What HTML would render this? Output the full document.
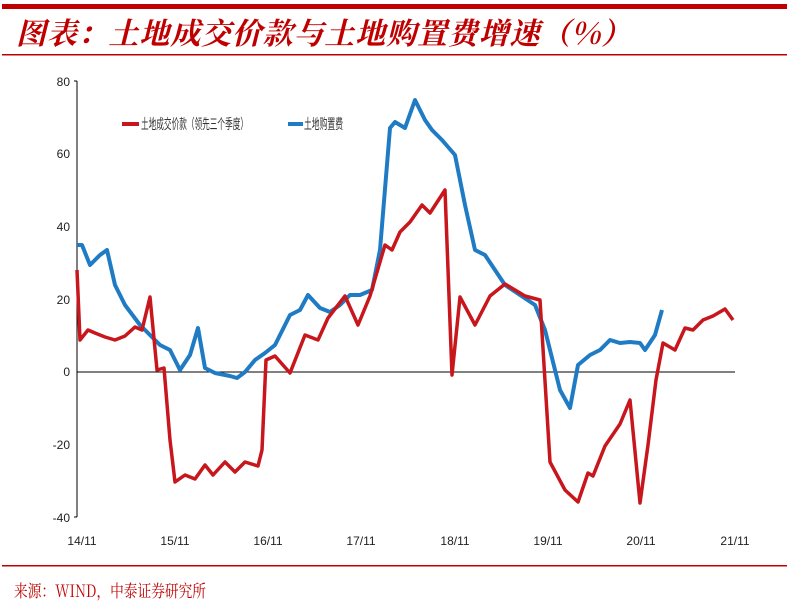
<!DOCTYPE html>
<html><head><meta charset="utf-8"><style>
body{margin:0;background:#fff;}
svg{display:block}
text{font-family:"Liberation Sans","Noto Sans CJK SC",sans-serif;}
</style></head><body>
<svg width="787" height="611" viewBox="0 0 787 611" xmlns="http://www.w3.org/2000/svg">
<rect x="2" y="4" width="785" height="5" fill="#c00000"/>
<text x="16" y="44" font-size="30" font-style="italic" font-weight="bold" fill="#c00000" textLength="615" lengthAdjust="spacing" style="font-family:'Noto Serif CJK SC','Noto Sans CJK SC',serif">图表：土地成交价款与土地购置费增速（%）</text>
<rect x="2" y="54" width="785" height="1.5" fill="#c00000"/>
<line x1="77" y1="81" x2="77" y2="517" stroke="#000" stroke-width="1"/>
<line x1="74" y1="81" x2="77" y2="81" stroke="#000"/>
<line x1="74" y1="517" x2="77" y2="517" stroke="#000"/>
<line x1="77" y1="372" x2="735" y2="372" stroke="#000" stroke-width="1"/>
<g font-size="12" fill="#222" text-anchor="end">
<text x="70" y="86">80</text><text x="70" y="158">60</text><text x="70" y="231">40</text><text x="70" y="304">20</text><text x="70" y="376">0</text><text x="70" y="449">-20</text><text x="70" y="522">-40</text>
</g>
<g font-size="12" fill="#222" text-anchor="middle">
<text x="82" y="545">14/11</text><text x="175" y="545">15/11</text><text x="268" y="545">16/11</text><text x="361" y="545">17/11</text><text x="455" y="545">18/11</text><text x="548" y="545">19/11</text><text x="641" y="545">20/11</text><text x="735" y="545">21/11</text>
</g>
<polyline fill="none" stroke="#1f7cc4" stroke-width="4" stroke-linejoin="round" points="77,245 82,245 90,265 100,255 107,250 115,285 125,305 140,325 150,335 160,345 170,350 180,370 190,355 198,328 205,368 215,373 230,376 237,378 245,372 255,360 265,353 275,345 290,315 300,310 308,295 320,308 330,312 340,305 350,295 360,295 372,290 380,250 390,128 395,122 405,128 415,100 425,120 432,130 442,140 455,155 465,205 475,250 485,255 495,270 505,285 520,295 535,305 545,330 560,390 570,408 578,365 590,355 600,350 610,340 620,343 630,342 640,343 645,350 655,335 662,310"/>
<polyline fill="none" stroke="#c8161d" stroke-width="3.5" stroke-linejoin="round" points="77,270 80,340 88,330 95,333 105,337 115,340 125,336 135,327 142,330 150,297 157,370 164,368 170,440 175,482 185,475 195,479 205,465 213,475 225,462 235,472 245,462 258,466 262,450 266,360 275,356 290,373 305,335 318,340 328,318 345,296 358,325 370,296 385,245 392,250 400,232 410,222 422,205 430,213 445,190 452,375 460,297 475,325 490,296 505,284 525,296 540,300 550,462 565,490 578,502 588,473 593,476 605,446 620,424 630,400 640,503 648,445 656,380 663,343 675,350 685,328 693,330 703,320 713,316 725,309 733,320"/>
<line x1="122" y1="124" x2="139" y2="124" stroke="#c8161d" stroke-width="4"/>
<text x="141" y="129" font-size="14" fill="#333" textLength="107" lengthAdjust="spacingAndGlyphs">土地成交价款（领先三个季度）</text>
<line x1="288" y1="124" x2="303" y2="124" stroke="#1f7cc4" stroke-width="4"/>
<text x="304" y="129" font-size="14" fill="#333" textLength="39" lengthAdjust="spacingAndGlyphs">土地购置费</text>
<rect x="2" y="565" width="785" height="1.5" fill="#c00000"/>
<text x="14" y="597" font-size="17" fill="#c00000" textLength="192" lengthAdjust="spacingAndGlyphs" style="font-family:'Noto Serif CJK SC','Noto Sans CJK SC',serif">来源：WIND，中泰证券研究所</text>
</svg>
</body></html>
